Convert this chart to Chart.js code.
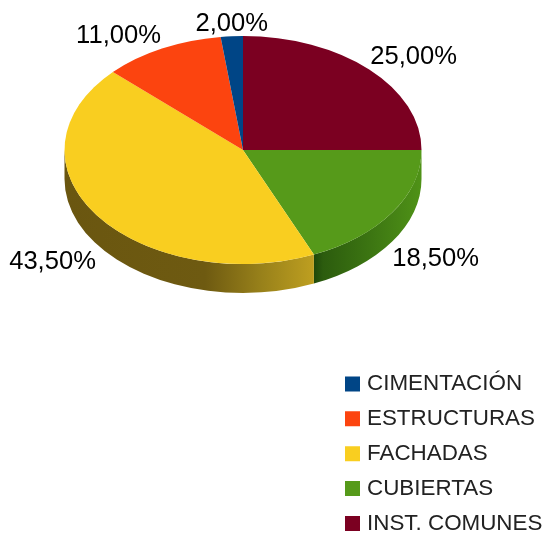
<!DOCTYPE html>
<html>
<head>
<meta charset="utf-8">
<style>html,body{margin:0;padding:0;background:#fff}canvas{display:block}</style>
<script src="https://cdn.jsdelivr.net/npm/chart.js@4/dist/chart.umd.min.js"></script>
</head>
<body>
<canvas id="c" width="545" height="533"></canvas>
<script>
const categories = ["INST. COMUNES", "CUBIERTAS", "FACHADAS", "ESTRUCTURAS", "CIMENTACIÓN"];
const shares = [25, 18.5, 43.5, 11, 2];
const sliceColors = ["#7B0021", "#569A1A", "#F9CE20", "#FC440F", "#004586"];

const FONT = '"Liberation Sans", Arial, sans-serif';
const CENTER_Y = 150, TILT = 114 / 178.5, DEPTH = 29;
const wallShades = {
  CUBIERTAS: [[314, "#1E480A"], [323, "#2C5C0E"], [370, "#3C7512"], [421, "#4F9217"]],
  FACHADAS: [[64, "#6A5610"], [205, "#6E5A11"], [260, "#97801A"], [314, "#BE9F20"]]
};

const pseudo3d = {
  id: "pseudo3d",
  afterLayout(chart) {
    const legend = chart.legend;
    legend.left = 336.7;
    legend.top = 360.2;
    legend.right = 545;
    legend.bottom = 900;
  },
  beforeDatasetDraw(chart) {
    const ctx = chart.ctx, arcs = chart.getDatasetMeta(0).data;
    ctx.save();
    ctx.translate(0, CENTER_Y);
    ctx.scale(1, TILT);
    ctx.translate(0, -arcs[0].y);
    arcs.forEach((arc, i) => {
      const s = Math.max(arc.startAngle, 0), e = Math.min(arc.endAngle, Math.PI);
      const shades = wallShades[categories[i]];
      if (!shades || e <= s) return;
      const x0 = arc.x - arc.outerRadius, w = 2 * arc.outerRadius;
      const g = ctx.createLinearGradient(x0, 0, x0 + w, 0);
      shades.forEach(([x, col]) => g.addColorStop(Math.min(1, Math.max(0, (x - x0) / w)), col));
      ctx.beginPath();
      ctx.arc(arc.x, arc.y, arc.outerRadius, s, e);
      ctx.arc(arc.x, arc.y + DEPTH / TILT, arc.outerRadius, e, s, true);
      ctx.closePath();
      ctx.fillStyle = g;
      ctx.fill();
    });
  },
  afterDatasetDraw(chart) {
    const ctx = chart.ctx, arcs = chart.getDatasetMeta(0).data;
    ctx.restore();
    ctx.save();
    ctx.font = "25.6px " + FONT;
    ctx.fillStyle = "#000";
    arcs.forEach((arc, i) => {
      const mid = (arc.startAngle + arc.endAngle) / 2;
      const cos = Math.cos(mid), sin = Math.sin(mid);
      let x = arc.x + arc.outerRadius * cos;
      let y = CENTER_Y + arc.outerRadius * TILT * sin;
      if (sin > 0) y += DEPTH + 5; else y -= 5;
      ctx.textAlign = cos > 0.1 ? "left" : cos < -0.1 ? "right" : "center";
      if (cos < -0.1) x -= 1;
      if (cos > 0.1 && sin < 0) x += 1;
      ctx.textBaseline = sin > 0 ? "top" : "alphabetic";
      ctx.fillText(shares[i].toFixed(2).replace(".", ",") + "%", x, y);
    });
    ctx.restore();
  }
};

new Chart(document.getElementById("c"), {
  type: "pie",
  data: {
    labels: categories,
    datasets: [{ data: shares, backgroundColor: sliceColors, borderWidth: 0, clip: false }]
  },
  options: {
    responsive: false,
    animation: false,
    events: [],
    layout: { padding: { left: 64.5, right: 123.5, top: 0, bottom: 176 } },
    plugins: {
      tooltip: { enabled: false },
      legend: {
        position: "chartArea",
        align: "start",
        reverse: true,
        labels: {
          usePointStyle: true,
          pointStyle: "rect",
          boxWidth: 6.6,
          boxHeight: 15,
          padding: 12.5,
          color: "#222",
          font: { family: FONT, size: 22.4 }
        }
      }
    }
  },
  plugins: [pseudo3d]
});
</script>
</body>
</html>
